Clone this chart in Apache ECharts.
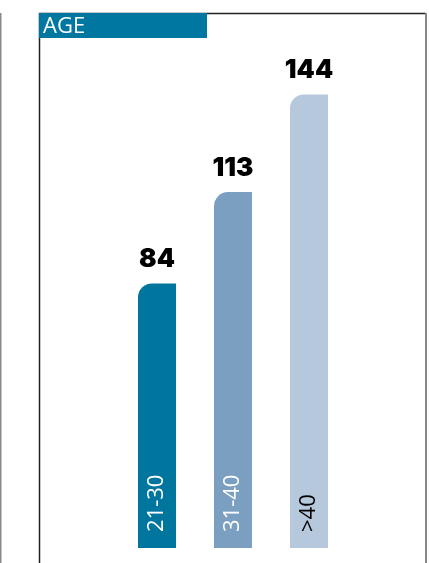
<!DOCTYPE html>
<html>
<head>
<meta charset="utf-8">
<script src="https://cdn.jsdelivr.net/npm/echarts@6/dist/echarts.min.js"></script>
<style>
  html, body { margin: 0; padding: 0; background: #fff; }
  #chart { width: 429px; height: 563px; }
</style>
</head>
<body>
<div id="chart"></div>
<script>
const categories = ["21-30", "31-40", ">40"];
const values = [84, 113, 144];
const barColors = ["#00769F", "#7A9FC1", "#B6C8DB"];
const innerLabelColors = ["#ffffff", "#ffffff", "#000000"];

const chart = echarts.init(document.getElementById("chart"));

chart.setOption({
  animation: false,
  grid: { left: 119, right: 82, top: 44, bottom: 15 },
  xAxis: {
    type: "category",
    data: categories,
    axisLine: { show: false },
    axisTick: { show: false },
    axisLabel: { show: false }
  },
  yAxis: {
    type: "value",
    min: 0,
    max: 160,
    show: false,
    splitLine: { show: false }
  },
  graphic: [
    { type: "line", shape: { x1: 0.5, y1: 13, x2: 0.5, y2: 563 }, style: { stroke: "#8a8a8a", lineWidth: 2 } },
    { type: "line", shape: { x1: 39.5, y1: 13, x2: 39.5, y2: 563 }, style: { stroke: "#222", lineWidth: 1.5 } },
    { type: "line", shape: { x1: 39, y1: 13.5, x2: 426, y2: 13.5 }, style: { stroke: "#222", lineWidth: 1.5 } },
    { type: "line", shape: { x1: 426, y1: 13, x2: 426, y2: 563 }, style: { stroke: "#888", lineWidth: 2 } },
    { type: "rect", shape: { x: 39, y: 13, width: 168, height: 25 }, style: { fill: "#0077A1" } },
    {
      type: "text", left: 43, top: 16,
      style: { text: "AGE", fill: "#fff", font: "400 22px 'Open Sans'" }
    }
  ],
  series: [
    {
      type: "bar",
      barWidth: 38,
      data: values.map((v, i) => ({ value: v, itemStyle: { color: barColors[i] } })),
      itemStyle: { borderRadius: [14, 0, 0, 0] },
      label: {
        show: true,
        position: "top",
        distance: 11,
        color: "#000",
        fontFamily: "Inter",
        fontWeight: 900,
        fontSize: 26
      }
    },
    {
      type: "bar",
      barWidth: 38,
      barGap: "-100%",
      z: 3,
      data: values.map((v, i) => ({
        value: v,
        label: { color: innerLabelColors[i] }
      })),
      itemStyle: { color: "transparent" },
      label: {
        show: true,
        position: "insideBottom",
        distance: 16,
        rotate: 90,
        align: "left",
        verticalAlign: "middle",
        formatter: p => categories[p.dataIndex],
        fontFamily: "Open Sans",
        fontWeight: 400,
        fontSize: 22
      }
    }
  ]
});
</script>
</body>
</html>
